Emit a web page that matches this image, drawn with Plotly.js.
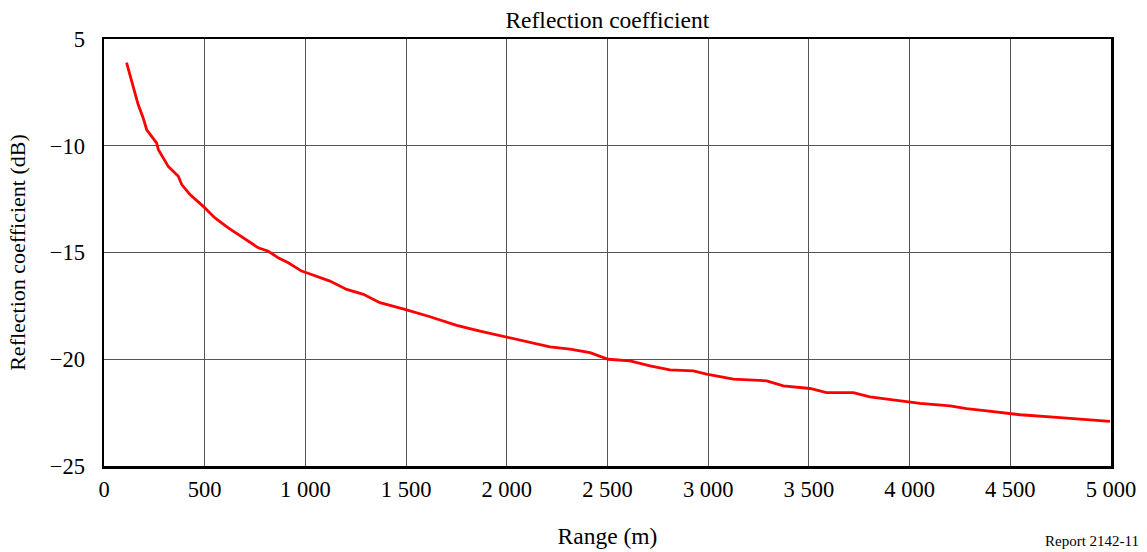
<!DOCTYPE html>
<html>
<head>
<meta charset="utf-8">
<script src="https://cdn.plot.ly/plotly-3.0.1.min.js"></script>
<style>html,body{margin:0;padding:0;background:#fff;}#chart{width:1147px;height:552px;}</style>
</head>
<body>
<div id="chart"></div>
<script>
// Range (m)
const rangeM = [112, 137, 162, 170, 195, 212, 261, 270, 319, 369, 386, 427, 493, 551, 617, 667, 716, 766, 816, 865, 915, 981, 1006, 1122, 1205, 1288, 1370, 1494, 1619, 1751, 1867, 2000, 2115, 2214, 2314, 2413, 2504, 2612, 2711, 2810, 2926, 2992, 3125, 3290, 3373, 3505, 3588, 3720, 3803, 3886, 3994, 4052, 4201, 4283, 4383, 4491, 4549, 4731, 4831, 4930, 4995];
// Reflection coefficient (dB)
const reflDb = [-6.11, -6.92, -7.77, -8.08, -8.71, -9.25, -9.87, -10.19, -10.97, -11.43, -11.82, -12.29, -12.84, -13.38, -13.85, -14.16, -14.47, -14.78, -14.94, -15.25, -15.48, -15.87, -15.95, -16.34, -16.73, -16.96, -17.35, -17.66, -18.01, -18.41, -18.68, -18.96, -19.19, -19.42, -19.53, -19.69, -20.0, -20.08, -20.31, -20.50, -20.54, -20.70, -20.93, -21.01, -21.25, -21.37, -21.56, -21.56, -21.76, -21.87, -21.98, -22.07, -22.18, -22.31, -22.42, -22.52, -22.60, -22.72, -22.80, -22.88, -22.91];

const xTickVals = [0, 500, 1000, 1500, 2000, 2500, 3000, 3500, 4000, 4500, 5000];
const xTickText = ["0", "500", "1 000", "1 500", "2 000", "2 500", "3 000", "3 500", "4 000", "4 500", "5 000"];
const yTickVals = [-25, -20, -15, -10, -5];
const yTickText = ["\u221225", "\u221220", "\u221215", "\u221210", "5"];

const FONT = "Liberation Serif, Times New Roman, serif";

const trace = {
  x: rangeM, y: reflDb, type: "scatter", mode: "lines",
  line: {color: "#ff0000", width: 2.8},
  hoverinfo: "skip"
};

const layout = {
  width: 1147, height: 552,
  margin: {l: 104, r: 36, t: 39, b: 86},
  paper_bgcolor: "#ffffff", plot_bgcolor: "#ffffff",
  showlegend: false,
  font: {family: FONT, size: 22, color: "#000"},
  title: {text: "Reflection coefficient", font: {family: FONT, size: 23.5, color: "#000"}, x: 0.5295, xanchor: "center", y: 0.965, yanchor: "middle"},
  xaxis: {
    range: [0, 5000], tickvals: xTickVals, ticktext: xTickText,
    showgrid: true, gridcolor: "#555555", gridwidth: 1,
    showline: true, linecolor: "#000", linewidth: 2.5, mirror: true,
    ticks: "", ticklabelstandoff: 1, zeroline: false,
    tickfont: {family: FONT, size: 22.5, color: "#000"},
    title: {text: "Range (m)", font: {family: FONT, size: 23.5, color: "#000"}, standoff: 27}
  },
  yaxis: {
    range: [-25, -5], tickvals: yTickVals, ticktext: yTickText,
    showgrid: true, gridcolor: "#555555", gridwidth: 1,
    showline: true, linecolor: "#000", linewidth: 2.5, mirror: true,
    ticks: "", ticklabelstandoff: 12, zeroline: false,
    tickfont: {family: FONT, size: 22.5, color: "#000"},
    title: {text: "Reflection coefficient (dB)", font: {family: FONT, size: 22, color: "#000"}, standoff: 18}
  },
  annotations: [{
    text: "Report 2142-11", xref: "paper", yref: "paper", x: 1.03, y: -0.2,
    xanchor: "right", yanchor: "bottom", showarrow: false,
    font: {family: FONT, size: 15, color: "#000"}
  }]
};

Plotly.newPlot("chart", [trace], layout, {staticPlot: true, displayModeBar: false});
</script>
</body>
</html>
